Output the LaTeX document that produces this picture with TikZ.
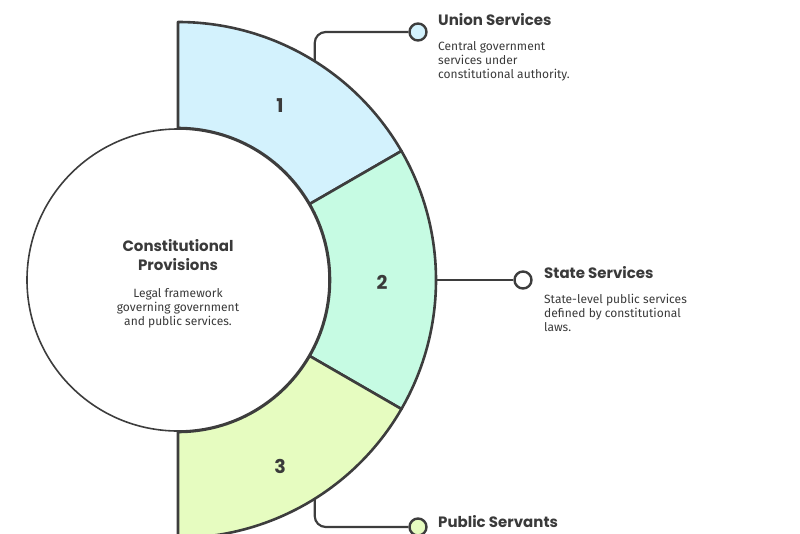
\documentclass[tikz,border=0pt]{standalone}
\usepackage{fontspec}
\setmainfont{Fira Sans}
\newfontfamily\headfont{Poppins}
\usetikzlibrary{calc}
\definecolor{ink}{HTML}{3D3D3D}
\definecolor{segA}{HTML}{D3F2FD}
\definecolor{segB}{HTML}{C6FBE3}
\definecolor{segC}{HTML}{E6FCC0}
\definecolor{txt}{HTML}{3A3A3A}
\tikzset{
  seg/.style={draw=ink, line width=2.6pt, line join=round},
  dot/.style={circle, draw=ink, line width=2.4pt, minimum size=17pt, inner sep=0pt},
  conn/.style={draw=ink, line width=2.2pt, rounded corners=11pt},
  title/.style={font=\headfont\bfseries\fontsize{15}{19}\selectfont, text=txt, inner sep=0pt},
  desc/.style={font=\fontsize{12}{14}\selectfont, text=txt, inner sep=0pt, align=left},
  num/.style={font=\headfont\bfseries\fontsize{19}{22}\selectfont, text=txt, inner sep=0pt}
}
\begin{document}
\begin{tikzpicture}[x=1pt,y=1pt]
\useasboundingbox (0,0) rectangle (800,-533);
\coordinate (C) at (178,-280);
% ring segments
\path[seg, fill=segA] ([shift={(C)}]90:258) arc[start angle=90, end angle=30, radius=258]
  -- ([shift={(C)}]30:152) arc[start angle=30, end angle=90, radius=152] -- cycle;
\path[seg, fill=segB] ([shift={(C)}]30:258) arc[start angle=30, end angle=-30, radius=258]
  -- ([shift={(C)}]-30:152) arc[start angle=-30, end angle=30, radius=152] -- cycle;
\path[seg, fill=segC] ([shift={(C)}]-30:258) arc[start angle=-30, end angle=-90, radius=258]
  -- ([shift={(C)}]-90:152) arc[start angle=-90, end angle=-30, radius=152] -- cycle;
% central circle
\node[circle, draw=ink, line width=1.6pt, fill=white, minimum size=302pt, inner sep=0pt] (core) at (C) {};
\node[title, align=center, anchor=base] (coreT) at (178,-270) {Constitutional\\Provisions};
\node[desc, align=center, anchor=base] (coreD) at (178,-325) {Legal framework\\governing government\\and public services.};
% numbers
\node[num] (n1) at (280,-106) {1};
\node[num] (n2) at (382,-282) {2};
\node[num] (n3) at (280,-466) {3};
% anchor points on outer arc
\coordinate (u0) at ([shift={(C)}]58:258);
\coordinate (s0) at ([shift={(C)}]0:258);
\coordinate (p0) at ([shift={(C)}]-58:258);
% dots
\node[dot, fill=segA] (ud) at (418,-32) {};
\node[dot, fill=white] (sd) at (523,-280) {};
\node[dot, fill=segC] (pd) at (418,-527) {};
% connectors
\draw[conn] (u0) |- (ud);
\draw[conn] (s0) -- (sd);
\draw[conn] (p0) |- (pd);
% labels
\node[title, anchor=base west] (uT) at (438,-25) {Union Services};
\node[desc, anchor=base west] (uD) at (438,-78) {Central government\\services under\\constitutional authority.};
\node[title, anchor=base west] (sT) at (544,-278) {State Services};
\node[desc, anchor=base west] (sD) at (544,-331) {State-level public services\\defined by constitutional\\laws.};
\node[title, anchor=base west] (pT) at (438,-527) {Public Servants};
\end{tikzpicture}
\end{document}
